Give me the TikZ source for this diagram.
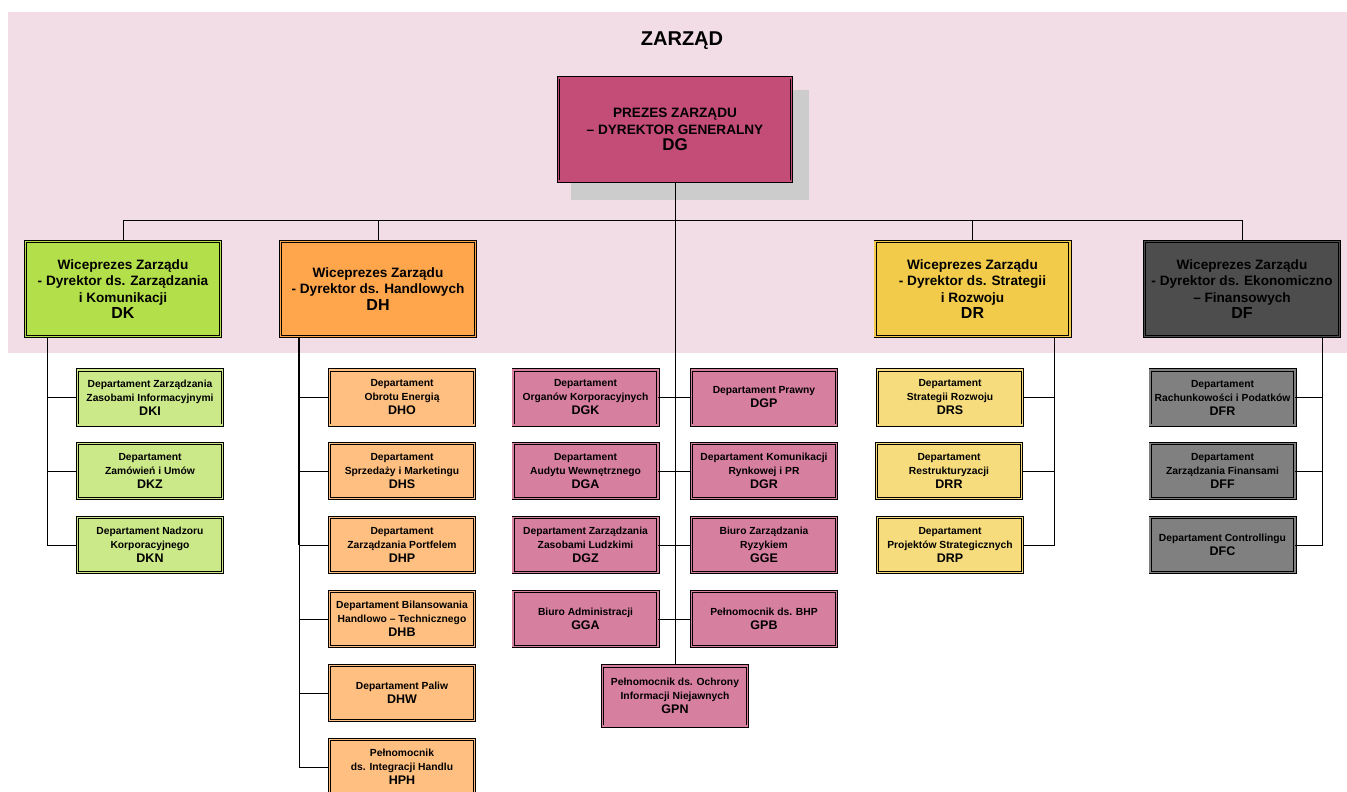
\documentclass[tikz,border=0pt]{standalone}
\usepackage{fontspec}
\setmainfont{Liberation Sans}[BoldFont={Liberation Sans Bold}]
\definecolor{bgpink}{HTML}{F2DCE5}
\definecolor{cDG}{HTML}{C44D78}
\definecolor{cDGd}{HTML}{D77F9F}
\definecolor{cDK}{HTML}{B3E04A}
\definecolor{cDKd}{HTML}{CCE98A}
\definecolor{cDH}{HTML}{FFA64D}
\definecolor{cDHd}{HTML}{FFBF80}
\definecolor{cDR}{HTML}{F2CB4B}
\definecolor{cDRd}{HTML}{F7DC7E}
\definecolor{cDF}{HTML}{4D4D4D}
\definecolor{cDFd}{HTML}{808080}
\definecolor{shadowgray}{HTML}{CCCCCC}
\newcommand\deptcode[1]{{\fontsize{12.5}{14}\selectfont\bfseries #1}}
\newcommand\vpcode[1]{{\fontsize{16}{17}\selectfont\bfseries #1}}
\newcommand\dgcode[1]{{\fontsize{17}{19}\selectfont\bfseries #1}}
\tikzset{
  box/.style={rectangle, draw=black, line width=0.9pt, double distance=1.5pt,
    align=center, inner sep=0pt, text=black},
  vpbox/.style={box, fill=#1, double=#1, minimum width=194.7pt, minimum height=94.7pt,
    font=\fontsize{13.6}{16.5}\selectfont\bfseries},
  deptbox/.style={box, fill=#1, double=#1, minimum width=144.7pt, minimum height=55.3pt,
    font=\fontsize{10.3}{14}\selectfont\bfseries},
  conn/.style={draw=black, line width=1pt},
}
\begin{document}
\begin{tikzpicture}[x=1pt,y=-1pt]
\useasboundingbox (0,0) rectangle (1347,792);
\fill[bgpink] (8,12) rectangle (1347,353);
\node[font=\fontsize{20}{22}\selectfont\bfseries] (title) at (682,41) {ZARZĄD};

% shadow + DG
\fill[shadowgray] (571,90) rectangle (809,200);
\node[box, fill=cDG, double=cDG, minimum width=233.3pt, minimum height=103.3pt,
  font=\fontsize{13.6}{16.5}\selectfont\bfseries] (DG) at (675,129.5)
  {PREZES ZARZĄDU\\– DYREKTOR GENERALNY\\\dgcode{DG}};

% Vice presidents
\node[vpbox=cDK] (DK) at (123,289) {Wiceprezes Zarządu\\- Dyrektor ds. Zarządzania\\i Komunikacji\\\vpcode{DK}};
\node[vpbox=cDH] (DH) at (378,289) {Wiceprezes Zarządu\\- Dyrektor ds. Handlowych\\\vpcode{DH}};
\node[vpbox=cDR] (DR) at (972.5,289) {Wiceprezes Zarządu\\- Dyrektor ds. Strategii\\i Rozwoju\\\vpcode{DR}};
\node[vpbox=cDF] (DF) at (1242,289) {Wiceprezes Zarządu\\- Dyrektor ds. Ekonomiczno\\– Finansowych\\\vpcode{DF}};

% DK departments
\node[deptbox=cDKd] (DKI) at (150,397.5) {Departament Zarządzania\\Zasobami Informacyjnymi\\\deptcode{DKI}};
\node[deptbox=cDKd] (DKZ) at (150,471) {Departament\\Zamówień i Umów\\\deptcode{DKZ}};
\node[deptbox=cDKd] (DKN) at (150,545) {Departament Nadzoru\\Korporacyjnego\\\deptcode{DKN}};

% DH departments
\node[deptbox=cDHd] (DHO) at (402,397.5) {Departament\\Obrotu Energią\\\deptcode{DHO}};
\node[deptbox=cDHd] (DHS) at (402,471) {Departament\\Sprzedaży i Marketingu\\\deptcode{DHS}};
\node[deptbox=cDHd] (DHP) at (402,545) {Departament\\Zarządzania Portfelem\\\deptcode{DHP}};
\node[deptbox=cDHd] (DHB) at (402,619) {Departament Bilansowania\\Handlowo – Technicznego\\\deptcode{DHB}};
\node[deptbox=cDHd] (DHW) at (402,693) {Departament Paliw\\\deptcode{DHW}};
\node[deptbox=cDHd] (HPH) at (402,767) {Pełnomocnik\\ds. Integracji Handlu\\\deptcode{HPH}};

% DG departments
\node[deptbox=cDGd] (DGK) at (585.5,397.5) {Departament\\Organów Korporacyjnych\\\deptcode{DGK}};
\node[deptbox=cDGd] (DGA) at (585.5,471) {Departament\\Audytu Wewnętrznego\\\deptcode{DGA}};
\node[deptbox=cDGd] (DGZ) at (585.5,545) {Departament Zarządzania\\Zasobami Ludzkimi\\\deptcode{DGZ}};
\node[deptbox=cDGd] (GGA) at (585.5,619) {Biuro Administracji\\\deptcode{GGA}};
\node[deptbox=cDGd] (DGP) at (764,397.5) {Departament Prawny\\\deptcode{DGP}};
\node[deptbox=cDGd] (DGR) at (764,471) {Departament Komunikacji\\Rynkowej i PR\\\deptcode{DGR}};
\node[deptbox=cDGd] (GGE) at (764,545) {Biuro Zarządzania\\Ryzykiem\\\deptcode{GGE}};
\node[deptbox=cDGd] (GPB) at (764,619) {Pełnomocnik ds. BHP\\\deptcode{GPB}};
\node[deptbox=cDGd, minimum height=60.3pt] (GPN) at (675,696) {Pełnomocnik ds. Ochrony\\Informacji Niejawnych\\\deptcode{GPN}};

% DR departments
\node[deptbox=cDRd] (DRS) at (950,397.5) {Departament\\Strategii Rozwoju\\\deptcode{DRS}};
\node[deptbox=cDRd] (DRR) at (949,471) {Departament\\Restrukturyzacji\\\deptcode{DRR}};
\node[deptbox=cDRd] (DRP) at (950,545) {Departament\\Projektów Strategicznych\\\deptcode{DRP}};

% DF departments
\node[deptbox=cDFd] (DFR) at (1222.5,397.5) {Departament\\Rachunkowości i Podatków\\\deptcode{DFR}};
\node[deptbox=cDFd] (DFF) at (1222.5,471) {Departament\\Zarządzania Finansami\\\deptcode{DFF}};
\node[deptbox=cDFd] (DFC) at (1222.5,545) {Departament Controllingu\\\deptcode{DFC}};

% connectors: board level
\coordinate (busL) at (123,220);
\coordinate (busR) at (1242,220);
\draw[conn] (DG.south) -- (GPN.north);
\draw[conn] (DK.north) -- (busL) -- (busR) -- (DF.north);
\draw[conn] (DH.north) -- (DH.north |- busL);
\draw[conn] (DR.north) -- (DR.north |- busL);

% DK branch
\coordinate (kx) at (47,0);
\draw[conn] (DK.south -| kx) |- (DKN.west);
\draw[conn] (DKI.west) -- (DKI.west -| kx);
\draw[conn] (DKZ.west) -- (DKZ.west -| kx);

% DH branch
\coordinate (hx) at (299,0);
\draw[conn] (DH.south -| hx) |- (HPH.west);
\draw[conn, line width=1.8pt] (DH.south -| hx) -- (DHP.west -| hx);
\foreach \n in {DHO,DHS,DHP,DHB,DHW} \draw[conn] (\n.west) -- (\n.west -| hx);

% DG branch
\draw[conn] (DGK.east) -- (DGP.west);
\draw[conn] (DGA.east) -- (DGR.west);
\draw[conn] (DGZ.east) -- (GGE.west);
\draw[conn] (GGA.east) -- (GPB.west);

% DR branch
\coordinate (rx) at (1054,0);
\draw[conn] (DR.south -| rx) |- (DRP.east);
\draw[conn] (DRS.east) -- (DRS.east -| rx);
\draw[conn] (DRR.east) -- (DRR.east -| rx);

% DF branch
\coordinate (fx) at (1322,0);
\draw[conn] (DF.south -| fx) |- (DFC.east);
\draw[conn] (DFR.east) -- (DFR.east -| fx);
\draw[conn] (DFF.east) -- (DFF.east -| fx);
\end{tikzpicture}
\end{document}
